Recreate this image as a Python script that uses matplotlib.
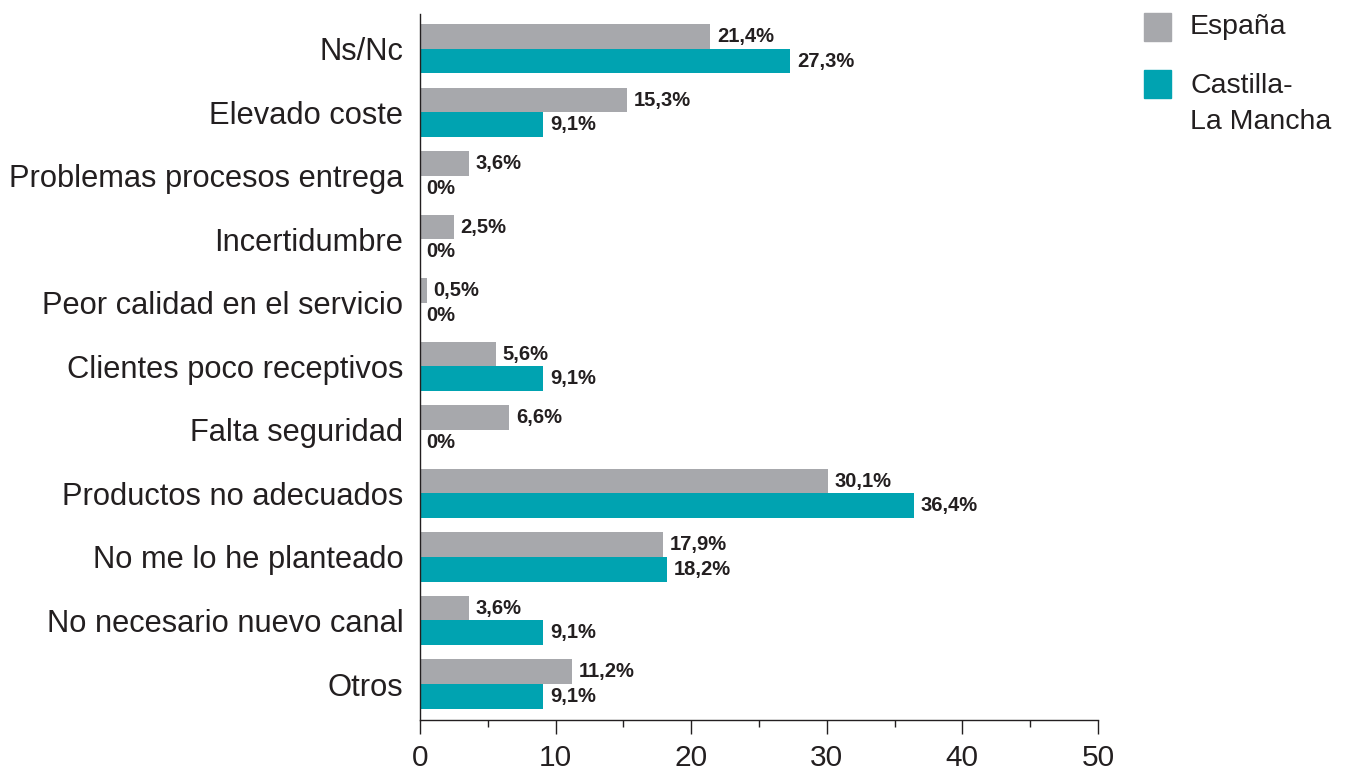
import numpy as np
import matplotlib.pyplot as plt
from matplotlib.patches import Rectangle
from matplotlib.ticker import MultipleLocator

categorias = ['Ns/Nc', 'Elevado coste', 'Problemas procesos entrega', 'Incertidumbre',
              'Peor calidad en el servicio', 'Clientes poco receptivos', 'Falta seguridad',
              'Productos no adecuados', 'No me lo he planteado', 'No necesario nuevo canal',
              'Otros']
espana = [21.4, 15.3, 3.6, 2.5, 0.5, 5.6, 6.6, 30.1, 17.9, 3.6, 11.2]
clm = [27.3, 9.1, 0, 0, 0, 9.1, 0, 36.4, 18.2, 9.1, 9.1]
series = ['España', 'Castilla-\nLa Mancha']

GRIS = '#a7a8ac'
TEAL = '#00a3b1'
TXT = '#231f20'

plt.rcParams['font.family'] = ['Liberation Sans', 'DejaVu Sans']

fig = plt.figure(figsize=(13.49, 7.69), dpi=100)
ax = fig.add_axes([0.3113, 0.0637, 0.5026, 0.9181])

y = np.arange(len(categorias))
h = 0.386
ax.barh(y - h / 2, espana, height=h, color=GRIS)
ax.barh(y + h / 2, clm, height=h, color=TEAL)

def etiqueta(v):
    if v == 0:
        return '0%'
    return ('%.1f%%' % v).replace('.', ',')

for i in range(len(categorias)):
    ax.text(espana[i] + 0.5, y[i] - h / 2, etiqueta(espana[i]), va='center', ha='left',
            fontsize=14.5, fontweight='bold', color=TXT)
    ax.text(clm[i] + 0.5, y[i] + h / 2, etiqueta(clm[i]), va='center', ha='left',
            fontsize=14.5, fontweight='bold', color=TXT)

ax.set_xlim(0, 50)
ax.set_ylim(10.567, -0.55)
ax.set_yticks(y)
ax.set_yticklabels(categorias, fontsize=22.2, color=TXT)
ax.tick_params(axis='y', length=0, pad=12)
ax.xaxis.set_major_locator(MultipleLocator(10))
ax.xaxis.set_minor_locator(MultipleLocator(5))
ax.tick_params(axis='x', which='major', length=10, width=1, color=TXT,
               labelsize=21.5, labelcolor=TXT, pad=7)
ax.tick_params(axis='x', which='minor', length=5, width=1, color=TXT)
for s in ['top', 'right']:
    ax.spines[s].set_visible(False)
for s in ['left', 'bottom']:
    ax.spines[s].set_color(TXT)
    ax.spines[s].set_linewidth(1)

# leyenda
W, H = 1349, 769
for k, (nombre, col) in enumerate(zip(series, [GRIS, TEAL])):
    y0 = 13 + k * 57
    fig.add_artist(Rectangle((1144 / W, 1 - (y0 + 28) / H), 27 / W, 28 / H,
                             transform=fig.transFigure, color=col))
fig.text(1190 / W, 1 - 27 / H, series[0], fontsize=20.5, color=TXT,
         va='center', ha='left')
fig.text(1190 / W, 1 - 73 / H, series[1], fontsize=20.5, color=TXT,
         va='top', ha='left', linespacing=1.5)

fig.savefig('out.png', dpi=100)
